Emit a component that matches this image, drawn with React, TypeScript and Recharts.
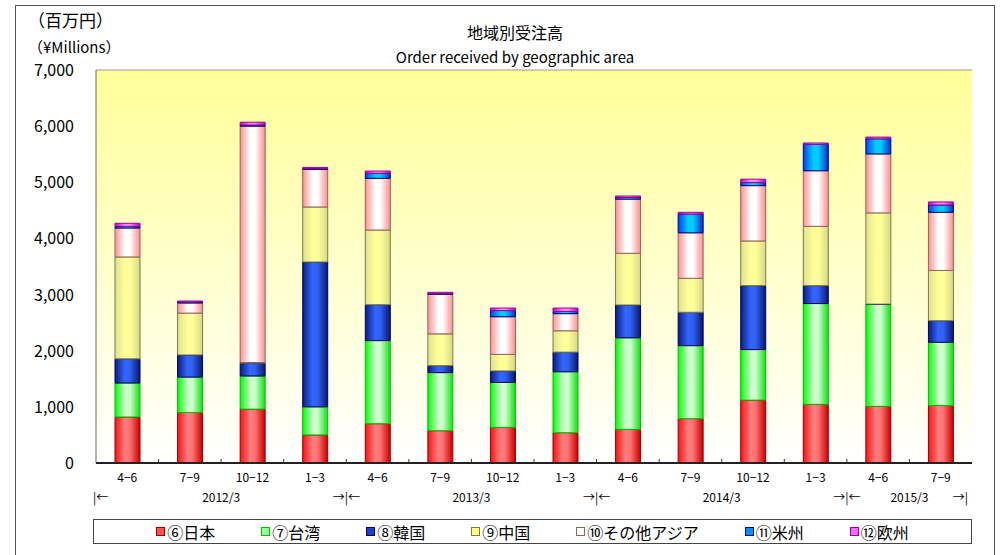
import { Bar, BarChart, CartesianGrid, XAxis, YAxis } from 'recharts'

const periods = ['4−6', '7−9', '10−12', '1−3', '4−6', '7−9', '10−12', '1−3', '4−6', '7−9', '10−12', '1−3', '4−6', '7−9']

// ¥ millions per quarter
const japan = [820, 900, 960, 500, 700, 575, 635, 540, 600, 790, 1120, 1045, 1010, 1025]
const taiwan = [605, 630, 590, 500, 1480, 1035, 800, 1085, 1630, 1300, 900, 1795, 1815, 1125]
const korea = [430, 395, 230, 2580, 640, 125, 205, 350, 585, 595, 1140, 320, 5, 385]
const china = [1815, 745, 10, 980, 1330, 565, 295, 380, 920, 605, 795, 1055, 1625, 895]
const otherAsia = [515, 180, 4210, 670, 920, 705, 670, 305, 965, 810, 985, 990, 1050, 1035]
const americas = [30, 20, 20, 15, 90, 15, 110, 40, 30, 335, 55, 470, 270, 130]
const europe = [55, 15, 50, 20, 40, 20, 45, 60, 25, 30, 60, 25, 30, 55]

const yearGroups = [
  { label: '2012/3', start: 0, end: 3 },
  { label: '2013/3', start: 4, end: 7 },
  { label: '2014/3', start: 8, end: 11 },
  { label: '2015/3', start: 12, end: 13 },
]

const yTicks = [0, 1000, 2000, 3000, 4000, 5000, 6000, 7000]

const series = [
  { key: 'japan', name: '⑥日本', stroke: '#990000', stops: ['#ff1010', '#ff8080', '#ff7070', '#c80000'], swatch: '#ff5050' },
  { key: 'taiwan', name: '⑦台湾', stroke: '#00c000', stops: ['#00ff00', '#ccffcc', '#ccffcc', '#10e010'], swatch: '#99ff99' },
  { key: 'korea', name: '⑧韓国', stroke: '#000060', stops: ['#0a1f80', '#3366ff', '#3060f0', '#0a1870'], swatch: '#1a40d0' },
  { key: 'china', name: '⑨中国', stroke: '#7a7a40', stops: ['#e0e090', '#ffff99', '#ffff99', '#d8d888'], swatch: '#ffff88' },
  { key: 'otherAsia', name: '⑩その他アジア', stroke: '#996060', stops: ['#ff9090', '#ffffff', '#ffffff', '#ff8c8c'], swatch: '#ffffff' },
  { key: 'americas', name: '⑪米州', stroke: '#000080', stops: ['#0040ff', '#00ccff', '#00ccff', '#0030d0'], swatch: '#0090ff' },
  { key: 'europe', name: '⑫欧州', stroke: '#990099', stops: ['#cc00cc', '#ff88ff', '#ff88ff', '#bb00bb'], swatch: '#ff66ff' },
]

const data = periods.map((period, i) => ({
  period,
  japan: japan[i],
  taiwan: taiwan[i],
  korea: korea[i],
  china: china[i],
  otherAsia: otherAsia[i],
  americas: americas[i],
  europe: europe[i],
}))

const FONT = '"Noto Sans CJK JP", "Noto Sans", sans-serif'
const CHART_W = 1000
const CHART_H = 555
const X_AXIS_H = 92
const MARGIN = { top: 70, right: 28, bottom: 0, left: 0 }
const Y_AXIS_W = 96
const band = (CHART_W - MARGIN.left - MARGIN.right - Y_AXIS_W) / periods.length

function YTick({ x, y, payload }: any) {
  return (
    <text x={x} y={y} dy={6} textAnchor="end" fontSize={16} fill="#000" fontFamily={FONT}>
      {Number(payload.value).toLocaleString('en-US')}
    </text>
  )
}

function PeriodTick({ x, y, payload, index }: any) {
  const i = payload?.index ?? index
  const group = yearGroups.find((g) => i >= g.start && i <= g.end)
  const isLast = i === periods.length - 1
  const right = x + band / 2
  const left = x - band / 2
  return (
    <g fontFamily={FONT} fill="#000">
      {!isLast && <line x1={right} x2={right} y1={y - 4} y2={y} stroke="#333" />}
      <text x={x} y={y + 19} textAnchor="middle" fontSize={12}>
        {payload.value}
      </text>
      {i === 0 && (
        <text x={left - 3} y={y + 39} textAnchor="start" fontSize={12}>
          |←
        </text>
      )}
      {group && i === group.start && (
        <text x={left + ((group.end - group.start + 1) * band) / 2} y={y + 39} textAnchor="middle" fontSize={12}>
          {group.label}
        </text>
      )}
      {group && i === group.end && !isLast && (
        <text x={right} y={y + 39} textAnchor="middle" fontSize={12}>
          →|←
        </text>
      )}
      {isLast && (
        <text x={right - 4} y={y + 39} textAnchor="end" fontSize={12}>
          →|
        </text>
      )}
    </g>
  )
}

function LegendBox() {
  return (
    <div
      style={{
        position: 'absolute',
        left: 93,
        top: 519,
        width: 879,
        height: 25,
        border: '1px solid #444',
        boxSizing: 'border-box',
        display: 'flex',
        justifyContent: 'center',
        alignItems: 'center',
        gap: 46,
        fontFamily: FONT,
        fontSize: 16,
        background: '#fff',
      }}
    >
      {series.map((s) => (
        <div key={s.key} style={{ display: 'flex', alignItems: 'center', lineHeight: '18px' }}>
          <span
            style={{
              display: 'inline-block',
              width: 7,
              height: 7,
              background: s.swatch,
              border: `1px solid ${s.stroke}`,
              marginRight: 2,
            }}
          />
          <span>{s.name}</span>
        </div>
      ))}
    </div>
  )
}

export default function App() {
  return (
    <div
      style={{
        position: 'absolute',
        left: 0,
        top: 0,
        width: CHART_W,
        height: CHART_H,
        overflow: 'hidden',
        background: '#fff',
        fontFamily: FONT,
      }}
    >
      <div
        style={{
          position: 'absolute',
          left: 15,
          top: 5,
          width: 980,
          height: 600,
          border: '1px solid #555',
          boxSizing: 'border-box',
        }}
      />
      <div style={{ position: 'absolute', left: 28, top: 10, fontSize: 17, lineHeight: '20px' }}>（百万円）</div>
      <div style={{ position: 'absolute', left: 28, top: 38, fontSize: 15, lineHeight: '18px' }}>（¥Millions）</div>
      <div
        style={{ position: 'absolute', left: 0, width: 1030, top: 24, fontSize: 16, lineHeight: '16px', textAlign: 'center' }}
      >
        地域別受注高
      </div>
      <div
        style={{ position: 'absolute', left: 0, width: 1030, top: 49, fontSize: 15, lineHeight: '16px', textAlign: 'center' }}
      >
        Order received by geographic area
      </div>
      <div style={{ position: 'absolute', left: 0, top: 0 }}>
        <BarChart width={CHART_W} height={CHART_H} data={data} margin={MARGIN} barSize={25}>
          <defs>
            <linearGradient id="plotBg" x1="0" y1="0" x2="0" y2="1">
              <stop offset="0%" stopColor="#ffff99" />
              <stop offset="100%" stopColor="#ffffff" />
            </linearGradient>
            {series.map((s) => (
              <linearGradient key={s.key} id={`g-${s.key}`} x1="0" y1="0" x2="1" y2="0">
                <stop offset="0%" stopColor={s.stops[0]} />
                <stop offset="40%" stopColor={s.stops[1]} />
                <stop offset="60%" stopColor={s.stops[2]} />
                <stop offset="100%" stopColor={s.stops[3]} />
              </linearGradient>
            ))}
          </defs>
          <CartesianGrid fill="url(#plotBg)" stroke="#999" vertical={false} />
          <XAxis
            dataKey="period"
            interval={0}
            tickSize={0}
            tickMargin={0}
            tickLine={false}
            axisLine={{ stroke: '#222', strokeWidth: 2 }}
            tick={<PeriodTick />}
            height={X_AXIS_H}
          />
          <YAxis
            yAxisId="left"
            domain={[0, 7000]}
            ticks={yTicks}
            width={Y_AXIS_W}
            tickSize={0}
            tickMargin={22}
            tickLine={false}
            axisLine={{ stroke: '#666' }}
            tick={<YTick />}
          />
          <YAxis
            yAxisId="right"
            orientation="right"
            domain={[0, 7000]}
            width={0}
            tick={false}
            tickLine={false}
            axisLine={{ stroke: '#888', strokeWidth: 2 }}
          />
          {series.map((s) => (
            <Bar
              key={s.key}
              yAxisId="left"
              dataKey={s.key}
              name={s.name}
              stackId="a"
              fill={`url(#g-${s.key})`}
              stroke={s.stroke}
              strokeWidth={1}
              isAnimationActive={false}
            />
          ))}
        </BarChart>
      </div>
      <LegendBox />
    </div>
  )
}
